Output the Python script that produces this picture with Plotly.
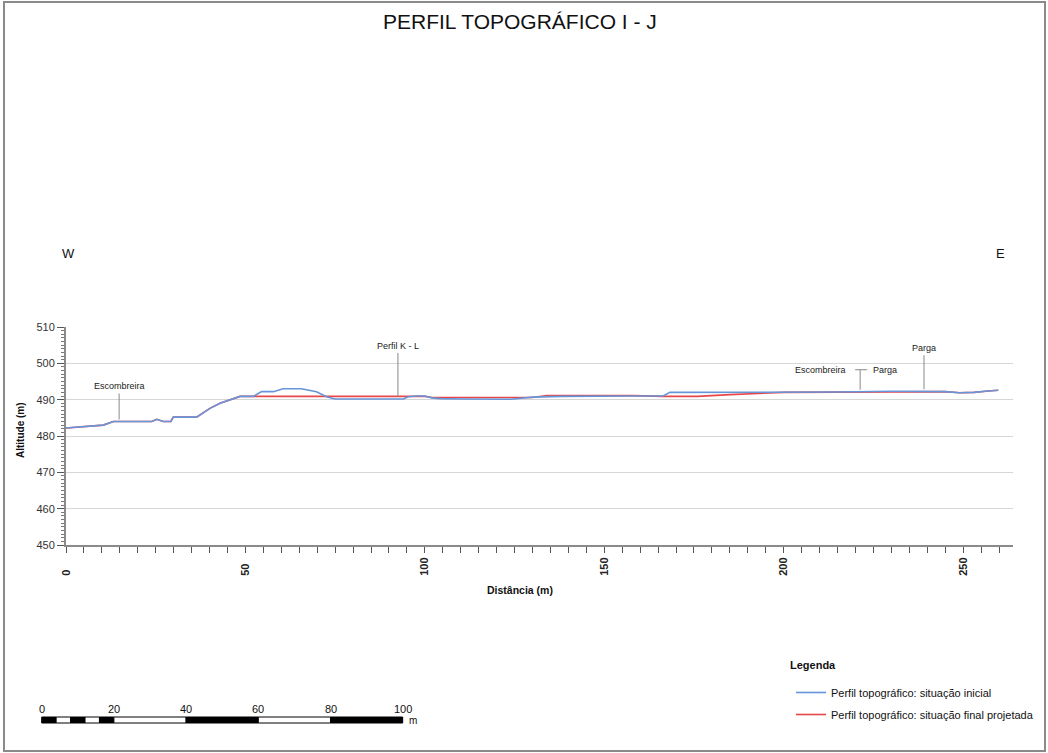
import numpy as np
import plotly.graph_objects as go

# ---------------- data ----------------
dist_initial = [0, 3, 7, 10.4, 13.2, 23.9, 25.3, 27.1, 29.2, 29.9, 36.4, 40.1, 42.9, 46.6, 48.5,
                52.2, 54.5, 57.8, 60.5, 65.6, 67.5, 69.8, 72.6, 74.9, 94.0, 95.4, 97.7, 100,
                101.9, 104.2, 110, 120, 124, 130, 138, 158, 166.4, 168.3, 185, 200, 215, 230,
                240, 245, 249, 253, 257, 259.8]
alt_initial = [482.2, 482.4, 482.8, 483.0, 484.0, 484.0, 484.6, 484.0, 484.0, 485.2, 485.2, 487.6,
               489.0, 490.2, 490.9, 490.9, 492.2, 492.2, 493.0, 493.0, 492.7, 492.2, 490.8, 490.2,
               490.2, 490.8, 491.0, 491.0, 490.5, 490.3, 490.2, 490.0, 490.1, 490.7, 490.9, 491.0,
               491.0, 492.0, 492.0, 492.0, 492.1, 492.3, 492.3, 492.2, 491.9, 492.0, 492.4, 492.6]

dist_final = [0, 3, 7, 10.4, 13.2, 23.9, 25.3, 27.1, 29.2, 29.9, 36.4, 40.1, 42.9, 46.6, 48.5,
              100, 102, 130, 134, 158, 166.4, 176, 185, 200, 215, 230, 240, 245, 249, 253, 257, 259.8]
alt_final = [482.2, 482.4, 482.8, 483.0, 484.0, 484.0, 484.6, 484.0, 484.0, 485.2, 485.2, 487.6,
             489.0, 490.2, 490.9, 490.9, 490.6, 490.6, 491.1, 491.1, 490.9, 490.9, 491.4, 492.0,
             492.1, 492.3, 492.3, 492.2, 491.9, 492.0, 492.4, 492.6]

label_names = ["Escombreira", "Perfil K - L", "Parga"]
label_dist = [14.8, 92.5, 239.1]
pair_names = ["Escombreira", "Parga"]   # combined label "Escombreira — Parga"
pair_dist = 221.3

x_ticks = [0, 50, 100, 150, 200, 250]
y_ticks = [450, 460, 470, 480, 490, 500, 510]
scale_labels = [0, 20, 40, 60, 80, 100]
scale_breaks = [0, 4, 8, 12, 16, 20, 40, 60, 80, 100]

# ---------------- layout helpers ----------------
W, H = 1048, 753
def px(x):
    return x / W
def py(y):
    return 1 - y / H

BLUE = "#6795da"
RED = "#e8474a"

fig = go.Figure()
fig.add_trace(go.Scatter(x=dist_final, y=alt_final, mode="lines",
                         line=dict(color=RED, width=1.6),
                         name="Perfil topográfico: situação final projetada",
                         legendgroup="b", legendrank=2))
fig.add_trace(go.Scatter(x=dist_initial, y=alt_initial, mode="lines",
                         line=dict(color=BLUE, width=1.6),
                         name="Perfil topográfico: situação inicial",
                         legendgroup="a", legendrank=1))

shapes = []
annotations = []
LABEL_FONT = dict(family="Liberation Sans, Arial, sans-serif", size=9, color="#222")

# leader lines + labels
lengths = [28, 46, 36]
for name, d, L in zip(label_names, label_dist, lengths):
    a = float(np.interp(d, dist_initial, alt_initial))
    shapes.append(dict(type="line", xref="x", yref="y", ysizemode="pixel", yanchor=a,
                       x0=d, x1=d, y0=2, y1=L, line=dict(color="#888", width=1)))
    annotations.append(dict(x=d, y=a, xref="x", yref="y", text=name, showarrow=False,
                            xanchor="center", yanchor="bottom", yshift=L, font=LABEL_FONT))

a = float(np.interp(pair_dist, dist_initial, alt_initial))
PL = 22
shapes.append(dict(type="line", xref="x", yref="y", ysizemode="pixel", yanchor=a,
                   x0=pair_dist, x1=pair_dist, y0=2, y1=PL, line=dict(color="#888", width=1)))
shapes.append(dict(type="line", xref="x", yref="y", ysizemode="pixel", yanchor=a,
                   xsizemode="pixel", xanchor=pair_dist, x0=-5, x1=7, y0=PL, y1=PL,
                   line=dict(color="#888", width=1)))
annotations.append(dict(x=pair_dist, y=a, xref="x", yref="y", text=pair_names[0], showarrow=False,
                        xanchor="right", xshift=-12, yanchor="middle", yshift=PL, font=LABEL_FONT))
annotations.append(dict(x=pair_dist, y=a, xref="x", yref="y", text=pair_names[1], showarrow=False,
                        xanchor="left", xshift=11, yanchor="middle", yshift=PL, font=LABEL_FONT))

def paper_text(x, y, text, size, bold=False, xanchor="center", family="Liberation Sans, Arial",
               angle=0):
    annotations.append(dict(x=px(x), y=py(y), xref="paper", yref="paper",
                            text=f"<b>{text}</b>" if bold else text, showarrow=False,
                            xanchor=xanchor, yanchor="middle", textangle=angle,
                            font=dict(family=family, size=size, color="#111")))

# title, W/E, axis titles, legend heading
paper_text(520, 22, "PERFIL TOPOGRÁFICO I - J", 21)
paper_text(68, 254, "W", 13)
paper_text(1000, 254, "E", 13)
paper_text(520, 590, "Distância (m)", 10.5, bold=True)
paper_text(20, 430, "Altitude (m)", 10, bold=True, angle=-90)
paper_text(788, 665, "Legenda", 11, bold=True, xanchor="left")

# scale bar
SB_X0, SB_PPU = 41.7, 3.61
SB_Y0, SB_Y1 = 717, 723
for i in range(len(scale_breaks) - 1):
    x0 = SB_X0 + scale_breaks[i] * SB_PPU
    x1 = SB_X0 + scale_breaks[i + 1] * SB_PPU
    fill = "black" if i % 2 == 0 else "white"
    shapes.append(dict(type="rect", xref="paper", yref="paper", x0=px(x0), x1=px(x1),
                       y0=py(SB_Y1), y1=py(SB_Y0), fillcolor=fill,
                       line=dict(color="black", width=1)))
for v in scale_labels:
    paper_text(SB_X0 + v * SB_PPU, 709, str(v), 11)
paper_text(SB_X0 + 100 * SB_PPU + 4, 720, "m", 10, xanchor="left")

# page frame
shapes.append(dict(type="rect", xref="paper", yref="paper", x0=px(4), x1=px(1045),
                   y0=py(751), y1=py(2), line=dict(color="#8a8a8a", width=2),
                   fillcolor="rgba(0,0,0,0)", layer="below"))

# x tick labels padded (trailing figure spaces) so that, rotated, they share a common bottom edge
maxlen = max(len(str(v)) for v in x_ticks)
x_ticktext = ["<b>" + str(v) + "\u2007" * (maxlen - len(str(v))) + "</b>" for v in x_ticks]

fig.update_layout(
    template="none",
    width=W, height=H, margin=dict(l=0, r=0, t=0, b=0, pad=0, autoexpand=False),
    paper_bgcolor="white", plot_bgcolor="white",
    font=dict(family="Liberation Sans, Arial, sans-serif", color="#222"),
    showlegend=True,
    legend=dict(x=px(791), y=py(678), xanchor="left", yanchor="top",
                traceorder="grouped", tracegroupgap=3,
                font=dict(size=11, color="#111"), bgcolor="rgba(0,0,0,0)", borderwidth=0),
    xaxis=dict(domain=[px(66), px(1013)], range=[0, 263.9], automargin=False,
               tickmode="array", tickvals=x_ticks, ticktext=x_ticktext,
               tickangle=-90, tickfont=dict(size=11, color="#222"),
               ticks="outside", ticklen=6, tickcolor="#555", tickwidth=1,
               minor=dict(dtick=5, ticks="outside", ticklen=6, tickcolor="#555", tickwidth=1,
                          showgrid=False),
               showline=True, linecolor="#8a8a8a", linewidth=2,
               showgrid=False, zeroline=False),
    yaxis=dict(domain=[py(545), py(327)], range=[450, 510], automargin=False,
               tickmode="array", tickvals=y_ticks,
               tickfont=dict(size=11, color="#333"),
               ticks="outside", ticklen=7, tickcolor="#555", tickwidth=1,
               minor=dict(dtick=1, ticks="outside", ticklen=3, tickcolor="#777", tickwidth=1,
                          showgrid=False),
               showline=True, linecolor="#8a8a8a", linewidth=2,
               showgrid=True, gridcolor="#d6d6d6", gridwidth=1, zeroline=False),
    shapes=shapes, annotations=annotations,
)

fig.write_html("out.html")
